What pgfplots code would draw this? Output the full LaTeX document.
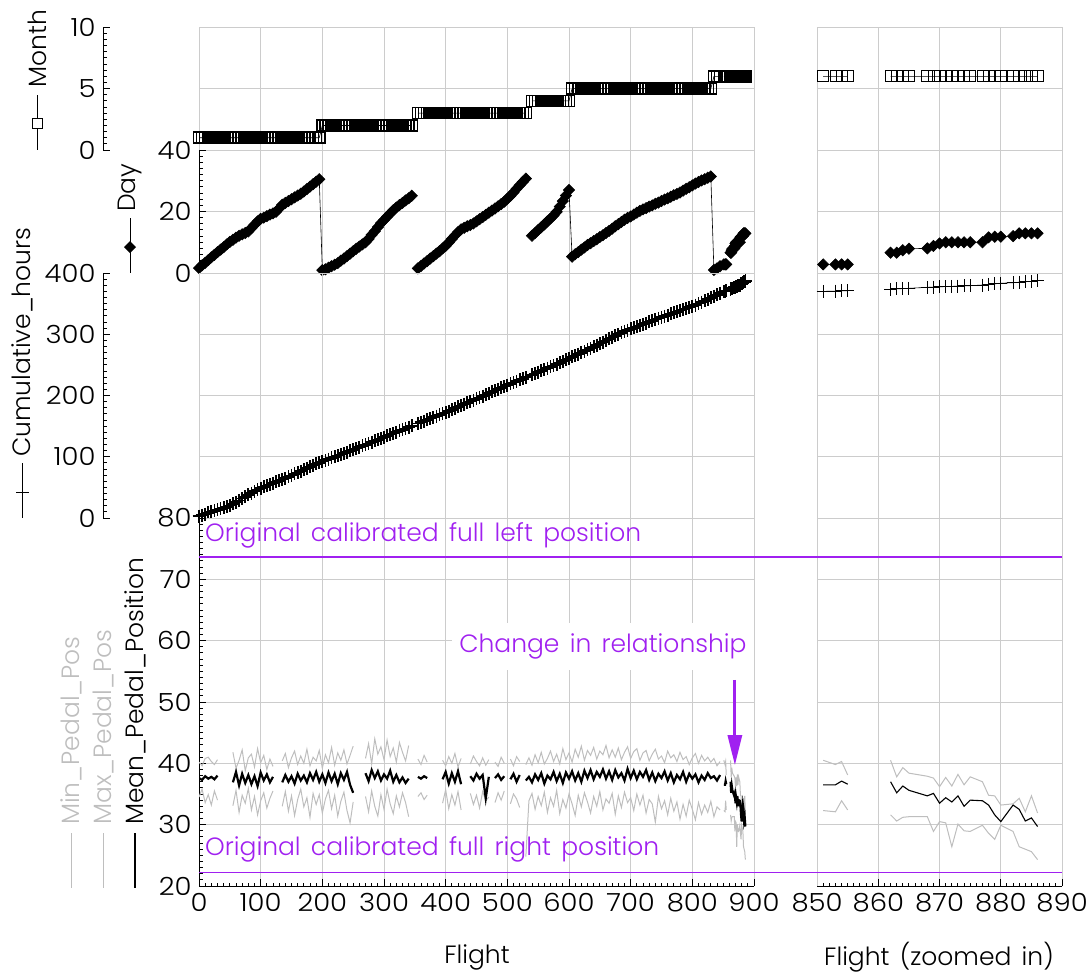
\documentclass[border=0pt]{standalone}
\usepackage{fontspec}
\setmainfont{Poppins Light}[WordSpace=1.5]
\newfontfamily\tickf{Poppins Light}[FakeStretch=1.1]
\usepackage{pgfplots}
\usepackage{pgfplotstable}
\pgfplotsset{compat=1.18}
\usetikzlibrary{arrows.meta}

\definecolor{gridc}{RGB}{204,204,204}
\definecolor{lgrey}{RGB}{190,190,190}
\definecolor{purp}{RGB}{160,32,240}
\newcommand{\fs}{\fontsize{25bp}{30bp}\selectfont}
\newcommand{\tfs}{\fontsize{25bp}{30bp}\selectfont\tickf}

% flight, month, day, cumulative hours, min / max / mean pedal position
\pgfplotstableread{
f mo dy ch mn mx me
0 1 1.6 3.0 34.5 40.2 37.6
5 1 2.5 4.7 35.8 39.6 37.3
10 1 3.3 6.5 33.6 40.8 37.9
15 1 4.2 8.2 34.9 41.0 37.5
20 1 5.1 9.9 33.2 40.3 37.8
25 1 5.9 11.6 35.5 39.8 37.4
30 1 6.8 13.4 34.0 40.6 38.0
35 1 7.6 15.1 nan nan nan
40 1 8.4 16.8 nan nan nan
45 1 9.3 18.5 nan nan nan
50 1 10.1 20.2 nan nan nan
55 1 10.8 23.0 33.1 41.8 36.9
60 1 11.5 25.9 35.6 39.2 38.6
65 1 12.1 28.8 32.0 40.5 36.4
70 1 12.6 31.8 34.8 42.2 38.3
75 1 13.0 34.7 33.5 38.8 36.8
80 1 13.5 37.7 35.9 40.9 38.1
85 1 14.6 40.6 32.4 41.5 36.6
90 1 15.7 43.6 34.6 39.4 37.9
95 1 16.8 46.5 31.6 42.4 36.3
100 1 17.6 48.9 33.9 40.1 38.5
105 1 18.0 50.9 35.2 41.3 37.2
110 1 18.5 52.9 32.7 39.0 38.2
115 1 19.0 54.9 34.3 40.7 36.9
120 1 19.4 56.9 35.5 39.5 37.8
125 1 19.9 58.8 nan nan nan
130 1 21.0 60.8 nan nan nan
135 1 22.2 62.8 33.0 40.4 36.9
140 1 22.8 64.9 35.4 41.6 38.1
145 1 23.4 67.3 32.2 39.3 37.0
150 1 24.0 69.6 34.7 40.9 37.9
155 1 24.6 72.0 31.5 42.0 36.7
160 1 25.2 74.3 34.1 39.8 38.3
165 1 25.8 76.7 35.8 41.2 37.2
170 1 26.5 79.0 32.9 40.0 38.0
175 1 27.3 81.4 34.4 42.3 36.9
180 1 28.1 83.8 31.2 39.6 38.4
185 1 28.9 86.1 35.1 41.0 37.3
190 1 29.7 88.4 33.3 40.4 38.6
195 1 30.5 90.3 34.9 42.1 37.0
200 2 0.9 92.2 31.9 39.2 38.2
205 2 1.2 94.2 34.2 41.4 36.8
210 2 1.7 96.1 35.6 40.1 38.5
215 2 2.2 98.0 32.6 42.6 37.1
220 2 2.7 100.0 34.8 39.7 38.3
225 2 3.2 101.9 31.4 41.7 36.6
230 2 4.0 103.8 33.8 40.5 38.4
235 2 4.7 105.7 35.3 42.2 37.3
240 2 5.5 107.6 32.3 39.9 38.6
245 2 6.3 109.5 30.3 41.3 36.5
250 2 7.1 111.5 33.7 42.8 35.2
255 2 7.9 113.4 nan nan nan
260 2 8.6 115.5 nan nan nan
265 2 9.3 117.6 nan nan nan
270 2 10.0 119.6 34.6 40.8 38.4
275 2 11.1 121.7 32.1 43.2 37.1
280 2 12.4 123.8 35.5 39.9 38.9
285 2 13.6 125.8 33.0 44.0 37.6
290 2 14.9 127.9 31.4 41.5 38.7
295 2 16.2 130.0 34.9 42.7 37.2
300 2 17.2 132.0 32.5 40.6 38.2
305 2 18.3 134.1 35.8 43.8 37.5
310 2 19.3 136.2 33.4 41.1 38.8
315 2 20.4 138.2 31.8 42.5 37.0
320 2 21.3 140.2 34.7 40.2 38.1
325 2 22.1 142.2 32.9 43.4 36.9
330 2 22.8 144.2 35.2 41.8 37.7
335 2 23.6 146.2 33.6 40.4 36.8
340 2 24.3 148.3 31.3 42.9 37.5
345 2 25.1 150.3 nan nan nan
350 nan nan nan nan nan nan
355 3 1.5 154.3 34.6 40.7 37.8
360 3 2.3 156.3 35.2 39.8 37.5
365 3 3.1 158.3 34.1 41.3 37.9
370 3 3.9 160.4 34.8 40.2 37.6
375 3 4.7 162.4 nan nan nan
380 3 5.5 164.4 nan nan nan
385 3 6.3 166.4 nan nan nan
390 3 7.1 168.4 nan nan nan
395 3 8.0 170.4 33.5 40.5 37.4
400 3 8.8 172.4 35.7 39.6 38.6
405 3 9.9 174.7 32.6 41.1 36.7
410 3 11.1 176.9 34.9 40.0 38.4
415 3 12.2 179.1 33.2 41.6 37.0
420 3 13.3 181.3 35.4 39.4 38.7
425 3 14.2 183.5 32.4 40.8 36.6
430 3 14.7 185.8 nan nan nan
435 3 15.2 188.0 nan nan nan
440 3 15.6 190.2 35.1 39.9 37.9
445 3 16.1 192.4 33.3 41.2 37.2
450 3 16.8 194.7 34.8 40.3 38.3
455 3 17.5 196.9 32.7 39.6 37.5
460 3 18.2 199.1 35.4 40.9 38.1
465 3 18.9 201.3 33.9 39.7 34.3
470 3 19.6 203.6 34.5 40.6 37.8
475 3 20.3 205.8 nan nan nan
480 3 21.0 208.0 33.6 40.2 37.6
485 3 21.7 210.2 35.2 39.5 38.2
490 3 22.4 212.4 34.0 41.0 37.3
495 3 23.2 214.7 35.5 40.0 37.9
500 3 24.2 216.9 nan nan nan
505 3 25.1 219.0 33.4 40.7 37.4
510 3 26.2 221.1 35.0 39.6 38.3
515 3 27.4 223.3 34.2 41.1 37.0
520 3 28.5 225.4 32.8 40.3 38.1
525 3 29.6 227.5 nan nan nan
530 3 30.7 229.7 24.8 39.8 37.2
535 nan nan nan 33.9 40.9 37.8
540 4 12.1 233.9 35.1 39.7 36.9
545 4 13.0 236.0 32.5 41.4 38.2
550 4 14.0 238.2 34.6 40.1 37.3
555 4 14.9 240.3 33.1 41.8 38.4
560 4 15.8 242.4 35.3 39.9 36.7
565 4 16.8 244.6 32.0 40.8 38.0
570 4 17.7 246.7 34.4 42.0 37.4
575 4 18.7 248.9 33.0 40.3 38.6
580 4 19.9 251.3 35.6 41.5 37.1
585 4 21.6 253.6 31.8 39.9 38.3
590 4 23.4 255.9 34.1 42.4 36.8
595 4 25.2 258.3 32.7 40.6 38.5
600 4 27.0 260.6 35.0 41.7 37.5
605 5 5.3 262.9 33.4 40.2 38.7
610 5 6.1 265.2 31.5 42.3 37.2
615 5 6.8 267.5 34.8 41.0 38.4
620 5 7.6 269.9 32.9 42.8 37.0
625 5 8.3 272.2 35.2 40.5 38.8
630 5 9.1 274.5 33.7 42.1 37.6
635 5 9.7 277.0 31.9 41.3 38.9
640 5 10.4 279.6 34.6 42.6 37.4
645 5 11.0 282.1 33.0 40.7 38.6
650 5 11.7 284.7 35.4 42.0 37.8
655 5 12.3 287.2 32.4 41.4 39.0
660 5 13.0 289.7 34.2 42.9 37.5
665 5 13.7 292.3 33.5 40.9 38.7
670 5 14.4 294.8 35.1 42.2 37.3
675 5 15.2 297.4 31.7 41.0 38.9
680 5 15.9 299.9 34.7 42.5 37.7
685 5 16.6 302.5 32.8 40.6 38.4
690 5 17.3 305.0 35.3 41.8 37.2
695 5 17.9 306.9 33.6 42.7 39.1
700 5 18.4 308.8 34.4 40.8 37.6
705 5 19.0 310.7 32.3 41.9 38.8
710 5 19.6 312.6 35.0 42.4 37.4
715 5 20.2 314.5 33.2 40.5 38.6
720 5 20.7 316.4 34.8 41.7 37.8
725 5 21.1 318.3 31.9 42.1 38.9
730 5 21.6 320.2 34.1 40.4 37.3
735 5 22.0 322.1 33.4 41.5 38.5
740 5 22.5 324.0 30.4 42.3 37.1
745 5 22.9 325.9 34.6 40.7 38.3
750 5 23.4 327.7 32.6 41.2 37.6
755 5 23.9 329.5 33.9 40.1 38.7
760 5 24.3 331.3 31.6 42.0 37.2
765 5 24.8 333.2 34.3 40.9 38.4
770 5 25.3 335.0 32.2 41.4 36.9
775 5 25.7 336.8 33.7 40.3 38.1
780 5 26.2 338.6 30.9 41.8 37.4
785 5 26.8 340.4 33.3 40.6 38.6
790 5 27.4 342.2 31.4 41.1 37.0
795 5 27.9 344.0 34.0 39.8 38.3
800 5 28.5 345.8 32.5 40.9 37.5
805 5 29.1 347.6 30.8 41.6 38.2
810 5 29.6 350.0 33.6 40.0 36.9
815 5 30.1 352.4 31.7 41.3 38.0
820 5 30.5 354.8 33.2 40.4 37.3
825 5 31.0 357.3 32.0 41.0 38.4
830 5 31.4 359.7 33.8 40.2 37.6
835 6 1.0 362.2 31.3 40.8 37.9
840 6 1.5 364.6 32.9 39.6 37.2
845 6 2.2 367.1 32.4 40.3 38.1
848 nan nan nan nan nan nan
851 6 2.8 370.0 32.3 40.5 36.5
853 6 2.8 370.5 32.1 39.8 36.5
854 6 2.8 370.8 33.9 40.3 37.1
855 6 2.8 371.0 32.4 38.1 36.6
858 nan nan nan nan nan nan
862 6 6.6 373.3 31.6 40.5 37.0
863 6 6.6 374.0 30.6 37.8 35.2
864 6 7.4 374.5 31.2 39.3 36.3
865 6 7.9 375.0 31.3 38.4 35.6
868 6 8.0 376.6 31.3 37.9 34.7
869 6 8.8 377.0 28.9 37.6 35.1
870 6 9.6 377.4 30.5 36.2 33.5
871 6 10.0 377.8 30.3 37.7 34.4
872 6 10.0 378.2 26.4 36.3 33.7
873 6 10.0 378.6 30.1 38.2 34.7
874 6 10.0 378.9 29.0 36.5 33.0
875 6 10.0 379.3 28.9 37.8 34.0
877 6 10.0 380.4 29.9 37.0 33.9
878 6 11.6 381.4 28.6 34.8 33.2
879 6 11.8 382.3 27.6 34.7 31.6
880 6 11.8 383.2 29.9 33.2 30.5
882 6 12.0 384.2 28.9 33.4 33.2
883 6 12.9 385.0 26.4 34.3 32.5
884 6 12.9 385.7 26.0 32.1 30.6
885 6 12.9 386.3 25.6 34.7 31.1
886 6 12.9 387.0 24.3 31.9 29.7
}\data

\pgfplotsset{
  every non boxed x axis/.style={},
  every non boxed y axis/.style={},
  band/.style={
    scale only axis, anchor=south west,
    axis x line*=bottom, axis y line*=left,
    grid=major, major grid style={gridc, line width=1bp},
    unbounded coords=jump,
    tick align=inside,
    tick style={black, line width=1bp},
    major tick length=7bp, minor tick length=3.5bp,
    tick label style={font=\tfs},
    xticklabel style={yshift=-4bp},
    yticklabel style={xshift=-4bp},
    /pgf/number format/assume math mode=true,
    axis line style={black, line width=1bp},
  },
  lp/.style={width=555bp, xmin=0, xmax=900, xtick={0,100,...,900}},
  rp/.style={width=245bp, xmin=850, xmax=890, xtick={850,860,...,890}},
  hidex/.style={x axis line style={draw=none}, xtick style={draw=none}, xticklabels={}},
  hidey/.style={y axis line style={gridc}, ytick style={draw=none}, yticklabels={}},
  monthp/.style={black, line width=0.6bp, mark=square, mark size=5.5bp, mark options={solid, line width=#1}},
  monthp/.default=0.8bp,
  dayp/.style={black, line width=0.6bp, mark=square*, mark size=4bp, mark options={solid, rotate=45}},
  cump/.style={black, line width=0.6bp, mark=+, mark size=6.5bp, mark options={solid, line width=#1}},
  cump/.default=1bp,
  extp/.style={lgrey, line width=1bp},
}

\begin{document}
\begin{tikzpicture}
\useasboundingbox (0,0) rectangle (1086bp,-972bp);

% ---------- left panel ----------
\begin{axis}[band, lp, hidex, hidey, at={(199bp,-150bp)}, height=122.7bp,
  ymin=0, ymax=10, ytick={0,5,10}]
\addplot[monthp=1.5bp] table[x=f, y=mo] {\data};
\end{axis}

\begin{axis}[band, lp, hidex, at={(199bp,-273bp)}, height=123bp,
  ymin=0, ymax=40, ytick={0,20,40}, minor y tick num=9]
\addplot[dayp] table[x=f, y=dy] {\data};
\end{axis}

\begin{axis}[band, lp, hidex, hidey, at={(199bp,-518bp)}, height=245bp,
  ymin=0, ymax=400, ytick={0,100,...,400}]
\addplot[cump=1.7bp] table[x=f, y=ch] {\data};
\end{axis}

\begin{axis}[band, lp, at={(199bp,-886bp)}, height=368bp,
  ymin=20, ymax=80, ytick={20,30,...,80}, minor y tick num=9, minor x tick num=9]
\addplot[extp] table[x=f, y=mn] {\data};
\addplot[extp] table[x=f, y=mx] {\data};
\addplot[black, line width=2.2bp] table[x=f, y=me] {\data};
\end{axis}

% offset y axes for month and cumulative hours
\begin{axis}[band, at={(103bp,-150bp)}, width=1bp, height=122.7bp, grid=none,
  xmin=0, xmax=1, hide x axis, ymin=0, ymax=10, ytick={0,5,10}, minor y tick num=9]
\addplot[draw=none] coordinates {(0,0)};
\end{axis}
\begin{axis}[band, at={(103bp,-518bp)}, width=1bp, height=245bp, grid=none,
  xmin=0, xmax=1, hide x axis, ymin=0, ymax=400, ytick={0,100,...,400}, minor y tick num=9]
\addplot[draw=none] coordinates {(0,0)};
\end{axis}

% ---------- right panel ----------
\begin{axis}[band, rp, hidex, hidey, at={(817bp,-150bp)}, height=122.7bp,
  ymin=0, ymax=10, ytick={0,5,10}]
\addplot[monthp] table[x=f, y=mo] {\data};
\end{axis}

\begin{axis}[band, rp, hidex, hidey, at={(817bp,-273bp)}, height=123bp,
  ymin=0, ymax=40, ytick={0,20,40}]
\addplot[dayp] table[x=f, y=dy] {\data};
\end{axis}

\begin{axis}[band, rp, hidex, hidey, at={(817bp,-518bp)}, height=245bp,
  ymin=0, ymax=400, ytick={0,100,...,400}]
\addplot[cump] table[x=f, y=ch] {\data};
\end{axis}

\begin{axis}[band, rp, hidey, at={(817bp,-886bp)}, height=368bp,
  ymin=20, ymax=80, ytick={20,30,...,80}, minor x tick num=9]
\addplot[extp] table[x=f, y=mn] {\data};
\addplot[extp] table[x=f, y=mx] {\data};
\addplot[black, line width=1.1bp] table[x=f, y=me] {\data};
\end{axis}

% ---------- annotations ----------
\begin{axis}[scale only axis, anchor=south west, at={(199bp,-886bp)}, width=555bp, height=368bp,
  xmin=0, xmax=900, ymin=20, ymax=80, hide axis, clip=false]
\node[purp, font=\fs, anchor=west, inner sep=0pt] at (axis cs:9.7,77.2) {Original calibrated full left position};
\node[purp, font=\fs, anchor=west, inner sep=0pt] at (axis cs:9.7,25.9) {Original calibrated full right position};
\node[purp, font=\fs, fill=white, minimum height=47bp, inner xsep=7bp] at (axis cs:655,59.05) {Change in relationship};
\draw[purp, line width=3bp, -{Triangle[length=30bp, width=14bp]}] (axis cs:869,53.6) -- (axis cs:869,39.7);
\end{axis}

% calibrated full right (22.2) and full left (73.6) reference lines across both panels
\draw[purp, line width=1.4bp] (199bp,-872.5bp) -- (1062bp,-872.5bp);
\draw[purp, line width=1.8bp] (199bp,-557bp) -- (1062bp,-557bp);

% ---------- axis titles with their line keys ----------
\draw[black, line width=1bp] (37.7bp,-95bp) -- (37.7bp,-150bp);
\draw[black, line width=1bp, fill=white] (32.7bp,-118bp) rectangle (42.7bp,-128bp);
\node[font=\fs, rotate=90, anchor=west, inner sep=0pt] at (37.7bp,-88bp) {Month};

\draw[black, line width=1bp] (130bp,-218bp) -- (130bp,-273bp);
\fill[black] (130bp,-241bp) -- (136bp,-247bp) -- (130bp,-253bp) -- (124bp,-247bp) -- cycle;
\node[font=\fs, rotate=90, anchor=west, inner sep=0pt] at (130bp,-212bp) {Day};

\draw[black, line width=1bp] (22.7bp,-463bp) -- (22.7bp,-518bp);
\draw[black, line width=1bp] (16.2bp,-492bp) -- (29.2bp,-492bp);
\node[font=\fs, rotate=90, anchor=west, inner sep=0pt] at (22.7bp,-457bp) {Cumulative\_hours};

\draw[lgrey, line width=1bp] (71.7bp,-833bp) -- (71.7bp,-888bp);
\node[lgrey, font=\fs, rotate=90, anchor=west, inner sep=0pt] at (71.7bp,-825bp) {Min\_Pedal\_Pos};
\draw[lgrey, line width=1bp] (103.3bp,-833bp) -- (103.3bp,-888bp);
\node[lgrey, font=\fs, rotate=90, anchor=west, inner sep=0pt] at (103.3bp,-825bp) {Max\_Pedal\_Pos};
\draw[black, line width=2bp] (135bp,-833bp) -- (135bp,-888bp);
\node[font=\fs, rotate=90, anchor=west, inner sep=0pt] at (135bp,-825bp) {Mean\_Pedal\_Position};

\node[font=\fs] at (477bp,-957bp) {Flight};
\node[font=\fs] at (939bp,-957bp) {Flight (zoomed in)};
\end{tikzpicture}
\end{document}
